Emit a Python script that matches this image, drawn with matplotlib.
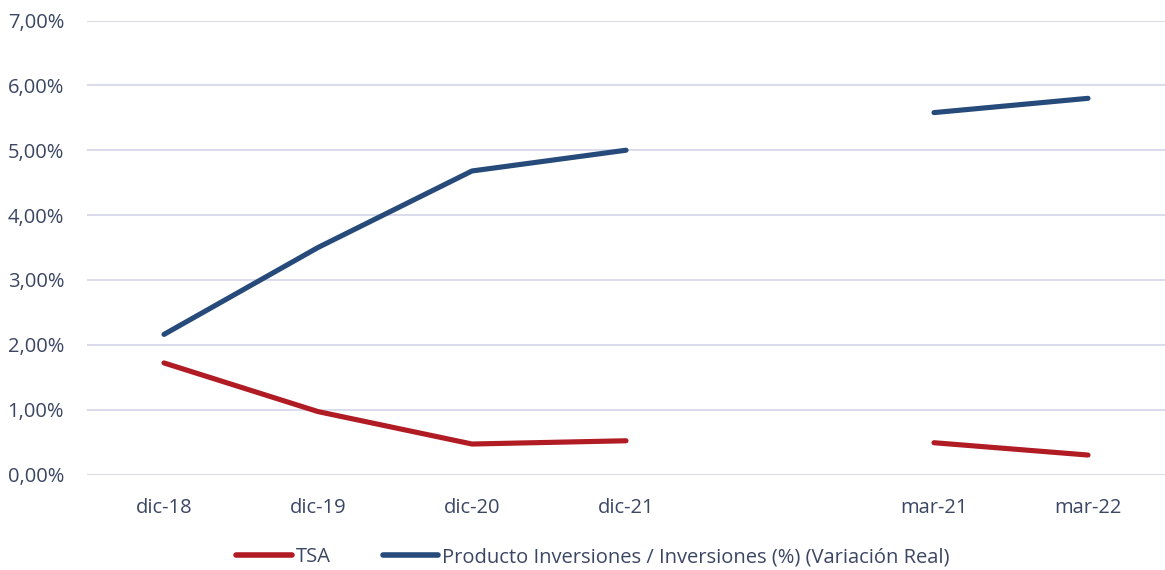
import numpy as np
import matplotlib
matplotlib.use("Agg")
import matplotlib.pyplot as plt
from matplotlib.ticker import FuncFormatter

categories = ["dic-18", "dic-19", "dic-20", "dic-21", "", "mar-21", "mar-22"]
tsa = [1.72, 0.97, 0.47, 0.52, np.nan, 0.49, 0.30]
producto = [2.16, 3.50, 4.68, 5.00, np.nan, 5.58, 5.80]
series_names = ["TSA", "Producto Inversiones / Inversiones (%) (Variación Real)"]
yticks = [0, 1, 2, 3, 4, 5, 6, 7]

plt.rcParams['font.family'] = ['Open Sans', 'DejaVu Sans']
text_color = "#3B4663"

fig = plt.figure(figsize=(11.65, 5.70), dpi=100)
ax = fig.add_axes([87/1165, 1 - 474.5/570, (1165 - 87)/1165, (474.5 - 20.5)/570])

x = np.arange(len(categories))
ax.plot(x, tsa, color="#B01B24", lw=3.7, solid_capstyle="round", solid_joinstyle="round", label=series_names[0], zorder=3)
ax.plot(x, producto, color="#264A7A", lw=3.7, solid_capstyle="round", solid_joinstyle="round", label=series_names[1], zorder=3)

ax.set_xlim(-0.5, len(categories) - 0.5)
ax.set_ylim(0, 7)
ax.set_yticks(yticks)
ax.yaxis.set_major_formatter(FuncFormatter(lambda v, p: f"{v:.2f}".replace(".", ",") + "%"))
ax.set_xticks(x)
ax.set_xticklabels(categories)
ax.grid(axis="y", color="#D9DCEB", lw=1.4, zorder=0)
ax.set_axisbelow(True)
for s in ax.spines.values():
    s.set_visible(False)
ax.tick_params(axis="both", length=0, labelsize=14.5, colors=text_color)
ax.tick_params(axis="y", pad=16.5)
ax.tick_params(axis="x", pad=17)

leg = fig.legend(loc="center", bbox_to_anchor=(0.509, 1 - 557/570), ncol=2, frameon=False,
                 fontsize=14.5, handlelength=2.75, handletextpad=0.2, columnspacing=2.6)
for line in leg.get_lines():
    line.set_linewidth(4.0)
for t in leg.get_texts():
    t.set_color(text_color)

fig.savefig("out.png", dpi=100)
